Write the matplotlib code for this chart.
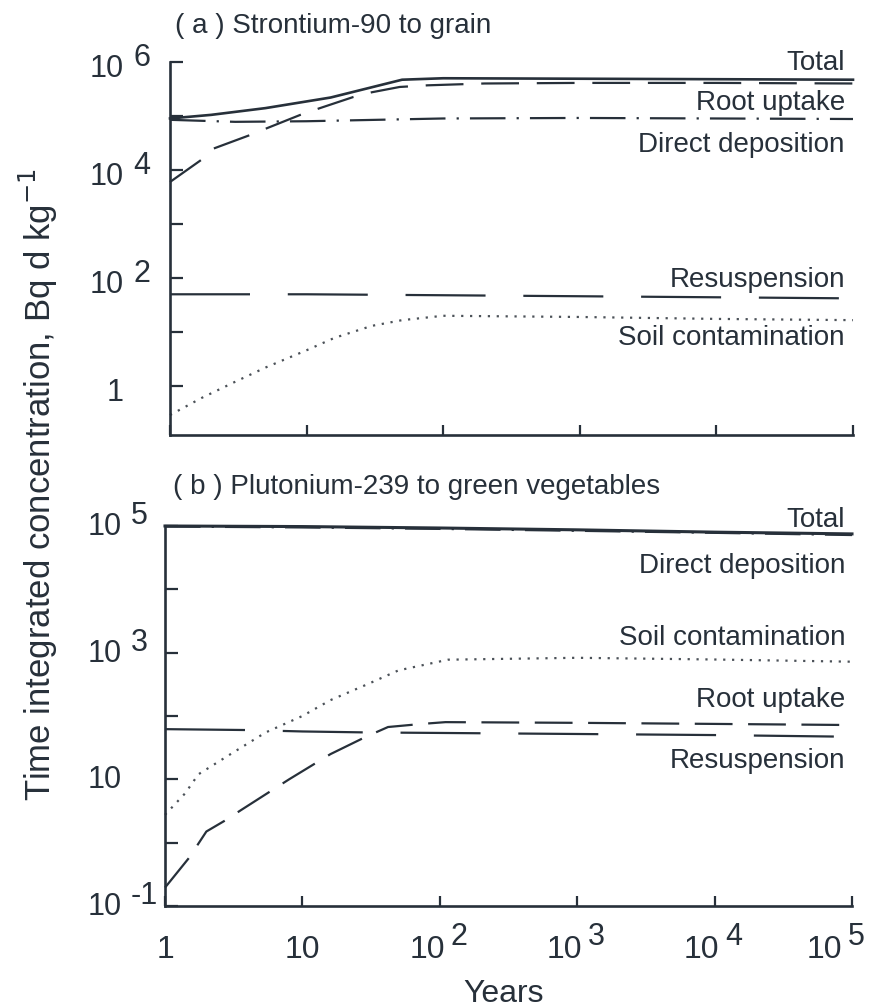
import matplotlib.pyplot as plt
from matplotlib.ticker import FixedLocator, NullLocator, NullFormatter

plt.rcParams['font.family'] = ['Liberation Sans', 'DejaVu Sans']

ink = '#27303a'
dots = '#4b5158'
PX = 0.72  # points per pixel at 100 dpi

# ---- (a) Strontium-90 to grain --------------------------------------------
sr_total_yr = [1, 2, 5, 15, 50, 100, 1e3, 1e4, 1e5]
sr_total = [9.0e4, 1.05e5, 1.4e5, 2.2e5, 4.7e5, 5.0e5, 4.9e5, 4.8e5, 4.7e5]

sr_root_yr = [1, 1.7, 2, 4, 5, 9, 12, 22, 30, 48, 77, 200, 1e3, 1e4, 1e5]
sr_root = [6.0e3, 1.55e4, 2.4e4, 4.6e4, 5.8e4, 1.05e5, 1.35e5, 2.25e5,
           2.75e5, 3.45e5, 3.7e5, 4.0e5, 4.1e5, 4.1e5, 4.0e5]

sr_direct_yr = [1, 3, 10, 100, 1e3, 1e4, 1e5]
sr_direct = [8.5e4, 7.8e4, 8.0e4, 9.0e4, 9.2e4, 9.0e4, 8.8e4]

sr_resusp_yr = [1, 10, 100, 1e3, 1e4, 1e5]
sr_resusp = [50, 50, 48, 46, 44, 42]

sr_soil_yr = [1, 1.7, 3, 5, 10, 16, 30, 50, 100, 1e3, 1e4, 1e5]
sr_soil = [0.29, 0.6, 1.2, 2.2, 4.6, 7.8, 13, 16.6, 20, 19, 17.5, 16.6]

# ---- (b) Plutonium-239 to green vegetables --------------------------------
pu_total_yr = [1, 10, 100, 1e3, 1e4, 1e5]
pu_total = [1.0e5, 9.8e4, 9.3e4, 8.7e4, 8.0e4, 7.5e4]

pu_direct_yr = [1, 10, 100, 1e3, 1e4, 1e5]
pu_direct = [9.8e4, 9.5e4, 9.0e4, 8.4e4, 7.8e4, 7.2e4]

pu_soil_yr = [1, 1.4, 1.75, 3, 5.4, 10, 16, 30, 50, 115, 1e3, 1e4, 1e5]
pu_soil = [2.75, 6, 12, 25, 55, 100, 178, 320, 525, 775, 830, 780, 720]

pu_root_yr = [1, 1.5, 2, 2.7, 3.6, 8, 16, 29, 42, 74, 110, 1e3, 1e4, 1e5]
pu_root = [0.195, 0.58, 1.5, 2.2, 3.3, 10, 25, 47, 67, 75, 80, 78, 75, 72]

pu_resusp_yr = [1, 4, 10, 30, 100, 1e3, 1e4, 1e5]
pu_resusp = [62, 60, 57, 55, 54, 52, 50, 47]

# ---- axis ticks and their labels (base, superscript) ---------------------
year_ticks = [1, 10, 1e2, 1e3, 1e4, 1e5]
year_labels = [('1', ''), ('10', ''), ('10', '2'), ('10', '3'), ('10', '4'), ('10', '5')]

sr_decades = [1, 10, 1e2, 1e3, 1e4, 1e5, 1e6]
sr_label_vals = [1, 1e2, 1e4, 1e6]
sr_labels = [('1', ''), ('10', '2'), ('10', '4'), ('10', '6')]

pu_decades = [1e-1, 1, 10, 1e2, 1e3, 1e4, 1e5]
pu_label_vals = [1e-1, 10, 1e3, 1e5]
pu_labels = [('10', '-1'), ('10', ''), ('10', '3'), ('10', '5')]


def style_axes(ax, ylim, yticks):
    ax.set_xscale('log')
    ax.set_yscale('log')
    ax.set_xlim(1, 1e5)
    ax.set_ylim(*ylim)
    for side in ['top', 'right']:
        ax.spines[side].set_visible(False)
    for side in ['left', 'bottom']:
        ax.spines[side].set_linewidth(1.9)
        ax.spines[side].set_color(ink)
    ax.xaxis.set_major_locator(FixedLocator(year_ticks))
    ax.xaxis.set_minor_locator(NullLocator())
    ax.yaxis.set_major_locator(FixedLocator(yticks))
    ax.yaxis.set_minor_locator(NullLocator())
    ax.xaxis.set_major_formatter(NullFormatter())
    ax.yaxis.set_major_formatter(NullFormatter())
    ax.tick_params(axis='y', direction='in', length=9, width=1.6, colors=ink)
    ax.tick_params(axis='x', direction='in', length=7, width=1.6, colors=ink)


def y_labels(ax, values, labels, right, drop):
    # "10" and its exponent set as two pieces of the same size
    for v, (base, sup) in zip(values, labels):
        ax.annotate(base, xy=(0, v), xycoords=('axes fraction', 'data'),
                    xytext=(-right * PX, -drop * PX), textcoords='offset points',
                    ha='right', va='baseline', fontsize=22, color=ink,
                    annotation_clip=False)
        if sup:
            ax.annotate(sup, xy=(0, v), xycoords=('axes fraction', 'data'),
                        xytext=((-right + 9) * PX, (-drop + 11) * PX),
                        textcoords='offset points', ha='left', va='baseline',
                        fontsize=22, color=ink, annotation_clip=False)


def x_labels(ax, values, labels, drop):
    for v, (base, sup) in zip(values, labels):
        if not sup:
            ax.annotate(base, xy=(v, 0), xycoords=('data', 'axes fraction'),
                        xytext=(0, -drop * PX), textcoords='offset points',
                        ha='center', va='baseline', fontsize=23, color=ink,
                        annotation_clip=False)
            continue
        shift = -10 if v == values[-1] else 5
        ax.annotate(base, xy=(v, 0), xycoords=('data', 'axes fraction'),
                    xytext=(shift * PX, -drop * PX), textcoords='offset points',
                    ha='right', va='baseline', fontsize=23, color=ink,
                    annotation_clip=False)
        ax.annotate(sup, xy=(v, 0), xycoords=('data', 'axes fraction'),
                    xytext=((shift + 6) * PX, (-drop + 13) * PX),
                    textcoords='offset points', ha='left', va='baseline',
                    fontsize=22, color=ink, annotation_clip=False)


def add_label(ax, x, y, text):
    ax.text(x, y, text, transform=ax.transAxes, ha='right', va='baseline',
            fontsize=20, color=ink)


fig = plt.figure(figsize=(8.71, 10.08), dpi=100)
axA = fig.add_axes([170 / 871, 1 - 435 / 1008, 683 / 871, 373 / 1008])
axB = fig.add_axes([165 / 871, 1 - 906 / 1008, 687 / 871, 380 / 1008])

style_axes(axA, (0.124, 1e6), sr_decades)
style_axes(axB, (0.1, 1e5), pu_decades)

y_labels(axA, sr_label_vals, sr_labels, right=46, drop=15)
y_labels(axB, pu_label_vals, pu_labels, right=43, drop=9)
x_labels(axB, year_ticks, year_labels, drop=52)

lw = 1.6
# top panel curves
axA.plot(sr_total_yr, sr_total, color=ink, lw=lw + 0.3, clip_on=False)
axA.plot(sr_root_yr, sr_root, color=ink, lw=lw, dashes=(17, 8), clip_on=False)
axA.plot(sr_direct_yr, sr_direct, color=ink, lw=lw, dashes=(16, 5, 1, 5), clip_on=False)
axA.plot(sr_resusp_yr, sr_resusp, color=ink, lw=lw, dashes=(36, 17), clip_on=False)
axA.plot(sr_soil_yr, sr_soil, color=dots, lw=lw, dashes=(1, 3), clip_on=False)

# bottom panel curves
axB.plot(pu_total_yr, pu_total, color=ink, lw=lw + 0.6, clip_on=False)
axB.plot(pu_direct_yr, pu_direct, color=ink, lw=lw, dashes=(16, 5, 1, 5), clip_on=False)
axB.plot(pu_soil_yr, pu_soil, color=dots, lw=lw, dashes=(1, 3), clip_on=False)
axB.plot(pu_root_yr, pu_root, color=ink, lw=lw, dashes=(17, 7), clip_on=False)
axB.plot(pu_resusp_yr, pu_resusp, color=ink, lw=lw, dashes=(36, 17), clip_on=False)

add_label(axA, 0.988, 0.979, 'Total')
add_label(axA, 0.988, 0.871, 'Root uptake')
add_label(axA, 0.988, 0.759, 'Direct deposition')
add_label(axA, 0.988, 0.397, 'Resuspension')
add_label(axA, 0.988, 0.241, 'Soil contamination')

add_label(axB, 0.990, 0.997, 'Total')
add_label(axB, 0.990, 0.876, 'Direct deposition')
add_label(axB, 0.990, 0.687, 'Soil contamination')
add_label(axB, 0.990, 0.524, 'Root uptake')
add_label(axB, 0.990, 0.363, 'Resuspension')

fig.text(175 / 871, 1 - 33 / 1008, '( a ) Strontium-90 to grain',
         fontsize=20, color=ink, va='baseline')
fig.text(173 / 871, 1 - 494 / 1008, '( b ) Plutonium-239 to green vegetables',
         fontsize=20, color=ink, va='baseline')

fig.text(0.044, 0.519, 'Time integrated concentration, Bq d kg$^{-1}$',
         rotation=90, fontsize=25, color=ink, ha='center', va='center')

fig.text(504 / 871, 1 - 1002 / 1008, 'Years', fontsize=23, color=ink,
         ha='center', va='baseline')

fig.savefig('out.png', dpi=100)
